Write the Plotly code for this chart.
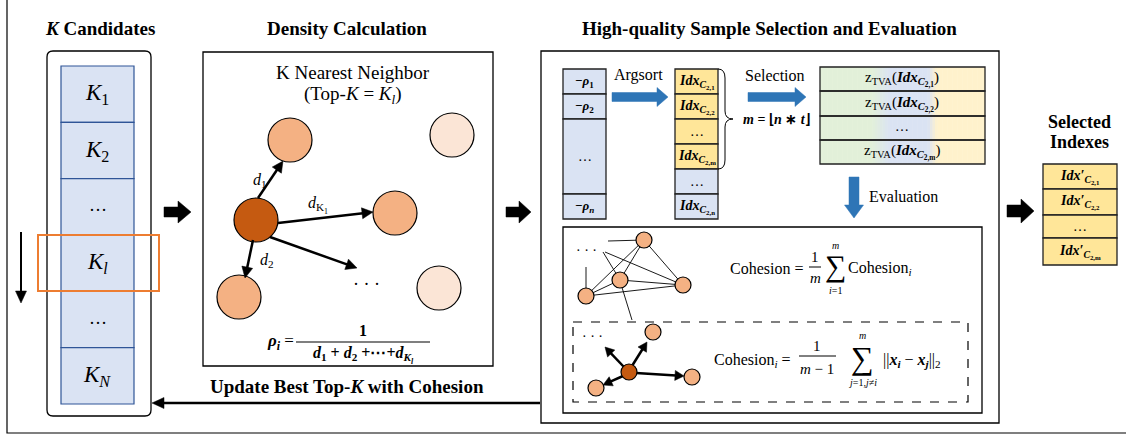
import math
import plotly.graph_objects as go

# ---------------- data (labels) ----------------
panel_titles = ["<i>K</i> Candidates", "Density Calculation", "High-quality Sample Selection and Evaluation"]
k_labels = ["<i>K</i><sub>1</sub>", "<i>K</i><sub>2</sub>", "…", "<i>K<sub>l</sub></i>", "…", "<i>K<sub>N</sub></i>"]
rho_labels = ["<b>−<i>ρ</i><sub>1</sub></b>", "<b>−<i>ρ</i><sub>2</sub></b>", "…", "<b>−<i>ρ<sub>n</sub></i></b>"]
idx_subs = ["2,1", "2,2", None, "2,m", None, "2,n"]
tva_subs = ["2,1", "2,2", None, "2,m"]
sel_subs = ["2,1", "2,2", None, "2,m"]
knn_title = ["K Nearest Neighbor", "(Top-<i>K</i> = <i>K<sub>l</sub></i>)"]
dist_labels = ["<i>d</i><sub>1</sub>", "<i>d</i><sub>K<sub>1</sub></sub>", "<i>d</i><sub>2</sub>"]
step_labels = ["Argsort", "Selection", "Evaluation"]
feedback_label = "<b>Update Best Top-<i>K</i> with Cohesion</b>"
brace_label = "<b><i>m</i> = ⌊<i>n</i> ∗ <i>t</i>⌋</b>"

SERIF = "Liberation Serif"
fig = go.Figure()
shapes, ann = [], []


def rect(x0, y0, x1, y1, fill="rgba(0,0,0,0)", line="black", lw=1.3, dash=None):
    shapes.append(dict(type="rect", x0=x0, y0=y0, x1=x1, y1=y1, xref="x", yref="y",
                       fillcolor=fill, line=dict(color=line, width=lw, dash=dash)))


def circle(cx, cy, r, fill, lw=1.2):
    shapes.append(dict(type="circle", x0=cx - r, x1=cx + r, y0=cy - r, y1=cy + r, xref="x", yref="y",
                       fillcolor=fill, line=dict(color="black", width=lw)))


def line(x0, y0, x1, y1, color="black", lw=1.0, dash=None):
    shapes.append(dict(type="line", x0=x0, y0=y0, x1=x1, y1=y1, xref="x", yref="y",
                       line=dict(color=color, width=lw, dash=dash)))


def path(p, fill="rgba(0,0,0,0)", color="black", lw=1.0):
    shapes.append(dict(type="path", path=p, xref="x", yref="y", fillcolor=fill,
                       line=dict(color=color, width=lw)))


def txt(x, y, s, size=14, family=SERIF, color="black", xanchor="center"):
    ann.append(dict(x=x, y=y, xref="x", yref="y", text=s, showarrow=False,
                    font=dict(size=size, family=family, color=color),
                    xanchor=xanchor, yanchor="middle"))


def arrow(sx, sy, tx, ty, lw=2.5, hl=11, hw=5.5):
    dx, dy = tx - sx, ty - sy
    d = math.hypot(dx, dy)
    ux, uy = dx / d, dy / d
    bx, by = tx - ux * hl, ty - uy * hl
    line(sx, sy, bx + ux * 1, by + uy * 1, lw=lw)
    px, py = -uy * hw, ux * hw
    path(f"M{tx:.2f},{ty:.2f} L{bx+px:.2f},{by+py:.2f} L{bx-px:.2f},{by-py:.2f} Z",
         fill="black", color="black", lw=0.5)


def block_right(x0, xh, x1, y, sh, hh, color):
    path(f"M{x0},{y-sh} L{xh},{y-sh} L{xh},{y-hh} L{x1},{y} L{xh},{y+hh} L{xh},{y+sh} L{x0},{y+sh} Z",
         fill=color, color=color, lw=0.5)


def block_down(x, y0, yh, y1, sw, hw, color):
    path(f"M{x-sw},{y0} L{x-sw},{yh} L{x-hw},{yh} L{x},{y1} L{x+hw},{yh} L{x+sw},{yh} L{x+sw},{y0} Z",
         fill=color, color=color, lw=0.5)


def idx_text(sub, prime=False):
    base = "Idx′" if prime else "Idx"
    return f"<b><i>{base}</i></b><sub><b><i>C</i></b><sub><b>{sub}</b></sub></sub>"


BLUE_FILL = "#DAE3F3"
BLUE_EDGE = "#2F5597"
YELLOW = "#FFE699"
ARROW_BLUE = "#2E75B6"
ORANGE_MID = "#F4B183"
ORANGE_DARK = "#C55A11"
ORANGE_LIGHT = "#FBE5D6"

# ---------------- outer frame ----------------
rect(7, -5, 1135, 433, lw=1.2)

# ---------------- titles ----------------
txt(100, 28, "<b>" + panel_titles[0] + "</b>", size=19)
txt(347, 28, "<b>" + panel_titles[1] + "</b>", size=19)
txt(769, 28, "<b>" + panel_titles[2] + "</b>", size=19)

# ---------------- K candidates column ----------------
x0, x1, y0, y1, r = 47, 151, 51, 416, 6
path(f"M{x0+r},{y0} L{x1-r},{y0} Q{x1},{y0} {x1},{y0+r} L{x1},{y1-r} Q{x1},{y1} {x1-r},{y1} "
     f"L{x0+r},{y1} Q{x0},{y1} {x0},{y1-r} L{x0},{y0+r} Q{x0},{y0} {x0+r},{y0} Z", lw=1.3)
cell_h = (404 - 66) / len(k_labels)
for i, lab in enumerate(k_labels):
    ya = 66 + i * cell_h
    rect(61, ya, 134, ya + cell_h, fill=BLUE_FILL, line=BLUE_EDGE, lw=1.2)
    if lab == "…":
        txt(98, ya + cell_h / 2 - 2, lab, size=18)
    else:
        txt(97, ya + cell_h / 2, lab, size=23)
rect(38, 235, 159, 291, line="#ED7D31", lw=2)
arrow(21, 232, 21, 303, lw=2, hl=12, hw=5.5)

# black block arrows between panels
block_right(164, 178, 191, 212, 5, 11, "black")
block_right(506, 519, 531, 212, 5, 11, "black")
block_right(1007, 1021, 1034, 211, 6, 12, "black")

# ---------------- density panel ----------------
rect(203, 52, 493, 366, lw=1.3)
txt(353, 72, knn_title[0], size=19)
txt(353, 95, knn_title[1], size=19)
circle(290, 140, 22, ORANGE_MID)
circle(452, 135, 22, ORANGE_LIGHT)
circle(395, 213, 22, ORANGE_MID)
circle(239, 297, 22, ORANGE_MID)
circle(439, 288, 22, ORANGE_LIGHT)
circle(256, 220, 22, ORANGE_DARK)
arrow(258, 198, 283, 161)
arrow(278, 223, 373, 212)
arrow(253, 240, 245, 278)
arrow(270, 237, 357, 268)
txt(260, 180, dist_labels[0], size=16)
txt(318, 205, dist_labels[1], size=16)
txt(267, 260, dist_labels[2], size=16)
txt(366, 284, "· · ·", size=18)
# rho formula
txt(296, 342, "<b><i>ρ<sub>i</sub></i></b> =", size=17, xanchor="right")
txt(363, 330, "<b>1</b>", size=16)
line(296, 342, 430, 342, lw=1.2)
txt(363, 355, "<b><i>d</i><sub>1</sub> + <i>d</i><sub>2</sub> +⋯+<i>d</i><sub><i>K<sub>l</sub></i></sub></b>", size=16)

# ---------------- selection panel ----------------
rect(541, 51, 999, 423, lw=1.3)
# -rho column
rho_rows = [69, 94, 119, 194, 219]
for i, lab in enumerate(rho_labels):
    rect(563, rho_rows[i], 606, rho_rows[i + 1], fill=BLUE_FILL, line="#222", lw=1.3)
    txt(584.5, (rho_rows[i] + rho_rows[i + 1]) / 2, lab, size=13 if lab != "…" else 14)
txt(638, 75, step_labels[0], size=16)
block_right(612, 657, 668, 97, 4.5, 9.5, ARROW_BLUE)
# idx column
idx_rows = [69, 94, 119, 144, 169, 194, 219]
for i, sub in enumerate(idx_subs):
    fill = YELLOW if i < 4 else BLUE_FILL
    rect(675, idx_rows[i], 718, idx_rows[i + 1], fill=fill, line="#222", lw=1.3)
    lab = idx_text(sub) if sub else "…"
    txt(696.5, (idx_rows[i] + idx_rows[i + 1]) / 2, lab, size=14 if sub else 14)
# brace
path("M718,69 Q725,69 725,78 L725,111 Q725,119 733,119 Q725,119 725,127 L725,160 Q725,169 718,169", lw=1)
txt(776, 119, brace_label, size=14)
txt(775, 75, step_labels[1], size=16)
block_right(748, 795, 806, 97, 4.5, 9.5, ARROW_BLUE)

# TVA gradient box
stops = [(820, (226, 240, 217)), (872, (226, 240, 217)), (890, (218, 227, 243)),
         (928, (218, 227, 243)), (937, (255, 242, 204)), (985, (255, 242, 204))]


def grad(x):
    for (xa, ca), (xb, cb) in zip(stops[:-1], stops[1:]):
        if xa <= x <= xb:
            t = (x - xa) / (xb - xa) if xb > xa else 0
            return tuple(round(ca[k] + (cb[k] - ca[k]) * t) for k in range(3))
    return stops[-1][1]


tva_rows = [67, 91, 116, 140, 164]
step = 2.5
xs = 820
while xs < 985:
    c = grad(xs + step / 2)
    shapes.append(dict(type="rect", x0=xs, x1=min(xs + step + 0.4, 985), y0=67, y1=164, xref="x", yref="y",
                       fillcolor=f"rgb{c}", line=dict(width=0)))
    xs += step
for i, sub in enumerate(tva_subs):
    rect(820, tva_rows[i], 985, tva_rows[i + 1], line="#222", lw=1.3)
    if sub:
        lab = "z<sub>TVA</sub>(" + idx_text(sub) + ")"
        txt(902, (tva_rows[i] + tva_rows[i + 1]) / 2, lab, size=15)
    else:
        txt(902, (tva_rows[i] + tva_rows[i + 1]) / 2 - 2, "…", size=14)
block_down(854, 177, 205, 218, 5, 9.5, ARROW_BLUE)
txt(903, 196, step_labels[2], size=16)

# evaluation box
rect(563, 227, 982, 413, lw=1.3)
rect(573, 322, 968, 402, lw=1.2, dash="dash")
# network graph
nodes = [(644, 240), (620, 280), (683, 285), (586, 296)]
edges = [(0, 1), (0, 2), (0, 3), (1, 2), (1, 3), (3, 2)]
for a, b in edges:
    line(*nodes[a], *nodes[b], lw=0.9)
line(608, 241, 644, 240, lw=0.9)
line(605, 252, 683, 285, lw=0.9)
line(603, 252, 620, 280, lw=0.9)
line(586, 267, 586, 296, lw=0.9)
line(620, 281, 632, 320, lw=0.9)
txt(586, 250, "· · ·", size=14)
for n in nodes:
    circle(n[0], n[1], 8, ORANGE_MID)
# star graph
star = [(653, 332), (692, 377), (596, 388)]
center = (629, 372)
arrow(center[0] + 3, center[1] - 6, 647, 342, lw=2.5, hl=9, hw=5)
arrow(center[0] + 7, center[1] + 1, 684, 376, lw=2.5, hl=9, hw=5)
arrow(center[0] - 6, center[1] + 4, 603, 385, lw=2.5, hl=9, hw=5)
arrow(center[0] - 5, center[1] - 5, 605, 347, lw=2.5, hl=9, hw=5)
txt(592, 336, "· · ·", size=14)
for n in star:
    circle(n[0], n[1], 8, ORANGE_MID)
circle(center[0], center[1], 8, ORANGE_DARK)

# cohesion formula
txt(805, 268, "Cohesion =", size=16, xanchor="right")
txt(815, 257, "1", size=15)
line(809, 267, 821, 267, lw=1)
txt(815, 278, "<i>m</i>", size=15)
txt(835, 266, "∑", size=30)
txt(835, 245, "<i>m</i>", size=10)
txt(835, 290, "<i>i</i>=1", size=10)
txt(846, 268, "Cohesion<sub><i>i</i></sub>", size=16, xanchor="left")

# cohesion_i formula
txt(793, 360, "Cohesion<sub><i>i</i></sub> =", size=16, xanchor="right")
txt(817, 346, "1", size=15)
line(799, 356, 836, 356, lw=1)
txt(817, 369, "<i>m</i> − 1", size=15)
txt(862, 358, "∑", size=32)
txt(862, 335, "<i>m</i>", size=10)
txt(862, 382, "<i>j</i>=1,<i>j</i>≠<i>i</i>", size=10)
txt(881, 360, "||<b><i>x<sub>i</sub></i></b> − <b><i>x<sub>j</sub></i></b>||<sub>2</sub>", size=16, xanchor="left")

# ---------------- selected indexes ----------------
txt(1079, 122, "<b>Selected</b>", size=18)
txt(1079, 142, "<b>Indexes</b>", size=18)
sel_rows = [164, 189, 215, 238, 265]
for i, sub in enumerate(sel_subs):
    rect(1043, sel_rows[i], 1117, sel_rows[i + 1], fill=YELLOW, line="#222", lw=1.3)
    lab = idx_text(sub, prime=True) if sub else "…"
    txt(1080, (sel_rows[i] + sel_rows[i + 1]) / 2, lab, size=14 if sub else 14)

# ---------------- feedback arrow ----------------
arrow(540, 403, 152, 403, lw=2.5, hl=12, hw=5.5)
txt(347, 386, feedback_label, size=19)

fig.update_layout(
    width=1126, height=439, margin=dict(l=0, r=0, t=0, b=0),
    paper_bgcolor="white", plot_bgcolor="white",
    xaxis=dict(range=[0, 1126], visible=False, fixedrange=True),
    yaxis=dict(range=[439, 0], visible=False, fixedrange=True),
    shapes=shapes, annotations=ann, showlegend=False,
)
fig.write_html("out.html", config={"displayModeBar": False},
               post_script="document.body.style.margin='0';document.body.style.overflow='hidden';")
